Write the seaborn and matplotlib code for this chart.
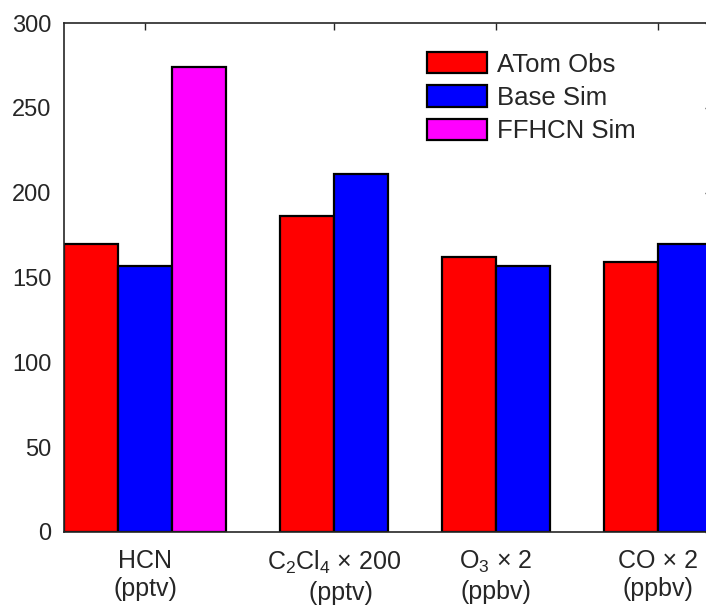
import numpy as np
import pandas as pd
import matplotlib
matplotlib.use('Agg')
import matplotlib.pyplot as plt
import seaborn as sns

# values
groups = ['HCN', 'C2Cl4', 'O3', 'CO']
atom_obs = [170, 186, 162, 159]
base_sim = [157, 211, 157, 170]
ffhcn_sim = [274]  # only HCN has an FFHCN run
tick_labels = ['HCN\n(pptv)',
               'C$_2$Cl$_4$ \u00d7 200\n  (pptv)',
               'O$_3$ \u00d7 2\n(ppbv)',
               'CO \u00d7 2\n(ppbv)']
series = ['ATom Obs', 'Base Sim', 'FFHCN Sim']
colors = {'ATom Obs': '#ff0000', 'Base Sim': '#0000ff', 'FFHCN Sim': '#ff00ff'}

# layout: first bar slot of each group (one empty slot between groups)
group_start = [0, 4, 7, 10]

rows = []
centers = []
for i, g in enumerate(groups):
    vals = [atom_obs[i], base_sim[i]]
    if i < len(ffhcn_sim):
        vals.append(ffhcn_sim[i])
    for j, v in enumerate(vals):
        rows.append({'pos': group_start[i] + j + 0.5, 'value': v, 'series': series[j]})
    centers.append(group_start[i] + len(vals) / 2)
df = pd.DataFrame(rows)

sns.set_theme(style='white')
plt.rcParams['font.family'] = ['Liberation Sans', 'DejaVu Sans']
plt.rcParams['mathtext.fontset'] = 'custom'
plt.rcParams['mathtext.rm'] = 'Liberation Sans'
plt.rcParams['mathtext.it'] = 'Liberation Sans:italic'
plt.rcParams['mathtext.bf'] = 'Liberation Sans:bold'

fig = plt.figure(figsize=(7.06, 6.06), dpi=100)
ax = fig.add_axes([64 / 706, 74 / 606, 648 / 706, 509 / 606])

sns.barplot(data=df, x='pos', y='value', hue='series', hue_order=series,
            palette=colors, native_scale=True, dodge=False, width=1.0,
            saturation=1, errorbar=None, edgecolor='black', linewidth=1.6,
            ax=ax)

ax.set_xlim(0, 12)
ax.set_ylim(0, 300)
ax.set_yticks(np.arange(0, 301, 50))
ax.set_xticks(centers)
ax.set_xticklabels(tick_labels)
ax.set_xlabel('')
ax.set_ylabel('')

for s in ax.spines.values():
    s.set_visible(True)
    s.set_color('#262626')
    s.set_linewidth(1.2)
ax.tick_params(axis='both', direction='in', length=5, width=1.0,
               color='#262626', labelcolor='#262626',
               top=True, right=True)
ax.tick_params(axis='x', pad=12, labelsize=18)
ax.tick_params(axis='y', pad=9, labelsize=17)
for t in ax.get_xticklabels():
    t.set_linespacing(1.25)

leg = ax.legend(loc='upper left', bbox_to_anchor=(427 / 706, 1 - 52 / 606),
                bbox_transform=fig.transFigure, frameon=False, fontsize=18.5,
                handlelength=2.33, handleheight=0.9, handletextpad=0.39,
                labelspacing=0.34, borderpad=0, borderaxespad=0)
for h in leg.legend_handles:
    h.set_edgecolor('black')
    h.set_linewidth(1.6)

fig.savefig('out.png', dpi=100)
